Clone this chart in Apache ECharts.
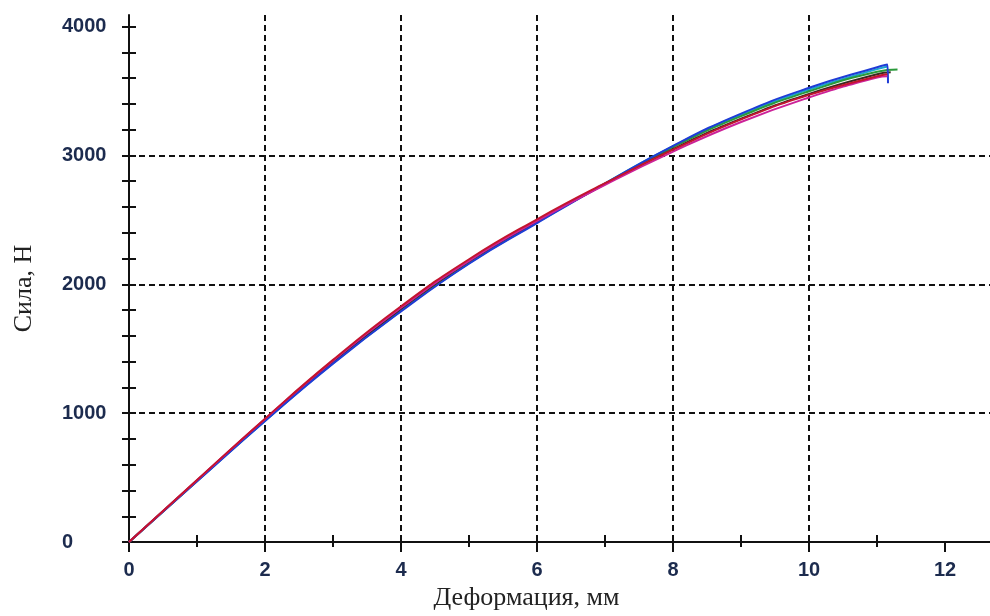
<!DOCTYPE html>
<html>
<head>
<meta charset="utf-8">
<script src="https://cdn.jsdelivr.net/npm/echarts@6/dist/echarts.min.js"></script>
<style>
  html, body { margin: 0; padding: 0; background: #fff; }
  #chart { width: 990px; height: 616px; }
</style>
</head>
<body>
<div id="chart"></div>
<script>
// deformation, mm (shared sample points)
var deform = [0, 1, 2, 3, 4, 5, 6, 7, 8, 9, 10, 11];

// force, N for each specimen
var forceRed     = [0, 482, 958, 1414, 1830, 2195, 2505, 2785, 3045, 3280, 3470, 3615];
var forceMagenta = [0, 480, 955, 1408, 1818, 2182, 2492, 2772, 3030, 3260, 3450, 3605];
var forceBlue    = [0, 472, 940, 1385, 1790, 2160, 2475, 2782, 3075, 3325, 3525, 3685];
var forceCyan    = [0, 472, 940, 1388, 1795, 2165, 2480, 2784, 3072, 3318, 3512, 3670];
var forceGreen   = [0, 475, 945, 1395, 1800, 2170, 2484, 2782, 3065, 3305, 3498, 3650];
var forceDark    = [0, 478, 950, 1400, 1810, 2178, 2488, 2777, 3050, 3285, 3478, 3630];

// break points at the end of each test
var endRed     = [[11.15, 3630]];
var endMagenta = [[11.15, 3615]];
var endBlue    = [[11.15, 3705], [11.16, 3560]];
var endCyan    = [[11.15, 3690]];
var endGreen   = [[11.3, 3668]];
var endDark    = [[11.2, 3645]];

var xMajor = [0, 2, 4, 6, 8, 10, 12];
var xMinor = [1, 3, 5, 7, 9, 11];
var xAll   = [0, 1, 2, 3, 4, 5, 6, 7, 8, 9, 10, 11, 12];
var yMajor = [0, 1000, 2000, 3000, 4000];
var yMinor = [];
for (var v = 0; v <= 4000; v += 200) yMinor.push(v);

function pairs(ys, tail) {
    var out = [];
    for (var i = 0; i < ys.length; i++) out.push([deform[i], ys[i]]);
    return out.concat(tail);
}

var chart = echarts.init(document.getElementById('chart'));

var labelColor = '#1c2b4e';
var gridLine = { show: true, showMinLine: false, showMaxLine: false,
    lineStyle: { color: '#111', width: 2, type: [6, 4] } };
var plain = function (val) { return String(val); };

function lineSeries(name, color, ys, tail) {
    return {
        name: name,
        type: 'line',
        data: pairs(ys, tail),
        smooth: 0.5,
        showSymbol: false,
        lineStyle: { color: color, width: 2 },
        z: 5
    };
}

var opt = {
    animation: false,
    backgroundColor: '#fff',
    grid: { left: 129, right: 0, top: 15, bottom: 71, containLabel: false },
    xAxis: [
        {
            type: 'value', min: 0, max: 12.66, interval: 2,
            name: 'Деформация, мм',
            nameLocation: 'middle',
            nameGap: 36,
            nameTextStyle: { fontFamily: 'Liberation Serif', fontSize: 26, color: '#222', padding: [0, 66, 0, 0] },
            axisLine: { lineStyle: { color: '#111', width: 2 } },
            axisTick: { show: true, length: 10, customValues: xMajor, lineStyle: { color: '#111', width: 2 } },
            axisLabel: { customValues: xMajor, formatter: plain, margin: 18, fontFamily: 'Liberation Sans', fontWeight: 'bold', fontSize: 20, color: labelColor },
            splitLine: gridLine
        },
        {
            type: 'value', min: 0, max: 12.66,
            axisLine: { show: false },
            axisTick: { show: true, length: 7, customValues: xMinor, lineStyle: { color: '#111', width: 2 } },
            axisLabel: { show: false },
            splitLine: { show: false }
        },
        {
            type: 'value', min: 0, max: 12.66,
            axisLine: { show: false },
            axisTick: { show: true, inside: true, length: 5, customValues: xAll, lineStyle: { color: '#111', width: 2 } },
            axisLabel: { show: false },
            splitLine: { show: false }
        }
    ],
    yAxis: [
        {
            type: 'value', min: 0, max: 4090, interval: 1000, position: 'left',
            name: 'Сила, Н',
            nameLocation: 'middle',
            nameGap: 92,
            nameTextStyle: { fontFamily: 'Liberation Serif', fontSize: 26, color: '#222', padding: [0, 20, 0, 0] },
            axisLine: { show: true, lineStyle: { color: '#111', width: 2 } },
            axisTick: { show: false, customValues: yMajor },
            axisLabel: { customValues: yMajor, formatter: plain, align: 'left', margin: 67, fontFamily: 'Liberation Sans', fontWeight: 'bold', fontSize: 20, color: labelColor },
            splitLine: gridLine
        },
        {
            type: 'value', min: 0, max: 4090, position: 'left',
            axisLine: { show: false },
            axisTick: { show: true, length: 7, customValues: yMinor, lineStyle: { color: '#111', width: 2 } },
            axisLabel: { show: false },
            splitLine: { show: false }
        },
        {
            type: 'value', min: 0, max: 4090, position: 'left',
            axisLine: { show: false },
            axisTick: { show: true, inside: true, length: 7, customValues: yMinor, lineStyle: { color: '#111', width: 2 } },
            axisLabel: { show: false },
            splitLine: { show: false }
        }
    ],
    series: [
        lineSeries('1', '#1aa6cf', forceCyan, endCyan),
        lineSeries('2', '#2a9a3a', forceGreen, endGreen),
        lineSeries('3', '#3a2a22', forceDark, endDark),
        lineSeries('4', '#1f3cd6', forceBlue, endBlue),
        lineSeries('5', '#cc2299', forceMagenta, endMagenta),
        lineSeries('6', '#c4142e', forceRed, endRed)
    ]
};

chart.setOption(opt);

window.addEventListener('resize', function () {
    chart.resize();
});
</script>
</body>
</html>
